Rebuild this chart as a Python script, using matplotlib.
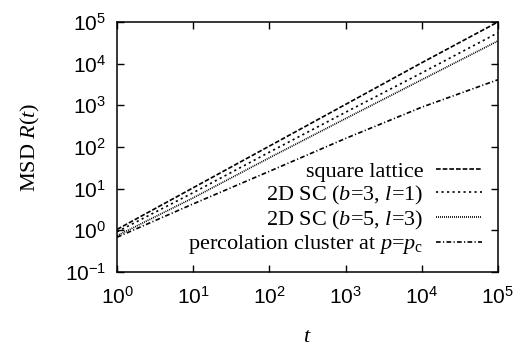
import numpy as np
import matplotlib
matplotlib.use('Agg')
import matplotlib.pyplot as plt

plt.rcParams['font.family'] = 'Liberation Serif'
plt.rcParams['mathtext.fontset'] = 'custom'
plt.rcParams['mathtext.rm'] = 'Liberation Serif'
plt.rcParams['mathtext.it'] = 'Liberation Serif:italic'

# Mean square displacement at each decade of t
t = [1, 10, 100, 1000, 1e4, 1e5]
msd_square = [1.05, 10.5, 105, 1050, 10500, 1.0e5]
msd_sc31 = [0.92, 8.0, 75, 680, 6000, 5.5e4]
msd_sc53 = [0.74, 6.0, 55, 480, 4100, 3.5e4]
msd_perc = [0.68, 4.3, 26, 160, 900, 4100]

labels = ['square lattice',
          '2D SC ($b$=3, $l$=1)',
          '2D SC ($b$=5, $l$=3)',
          'percolation cluster at $p$=$p_{\\rm c}$']

fig = plt.figure(figsize=(5.23, 3.49), dpi=100)
ax = fig.add_axes([0.224, 0.221, 0.728, 0.716])

lw = 1.2
ax.plot(t, msd_square, color='black', lw=lw, dashes=(2.8, 1.2), label=labels[0])
ax.plot(t, msd_sc31, color='black', lw=lw, dashes=(1.3, 2.0), label=labels[1])
ax.plot(t, msd_sc53, color='black', lw=lw, dashes=(0.6, 0.6), label=labels[2])
ax.plot(t, msd_perc, color='black', lw=lw, dashes=(2.8, 1.4, 0.7, 1.4), label=labels[3])

ax.set_xscale('log')
ax.set_yscale('log')
ax.set_xlim(1, 1e5)
ax.set_ylim(0.1, 1e5)
ax.yaxis.set_major_locator(matplotlib.ticker.LogLocator(base=10, numticks=12))
ax.minorticks_off()
ax.tick_params(which='major', direction='in', length=5, width=1,
               top=True, right=True, labelsize=15, pad=8,
               labelfontfamily='Liberation Sans')
ax.tick_params(axis='x', pad=10)
for s in ax.spines.values():
    s.set_linewidth(1.1)

ax.set_xlabel('$t$', fontsize=16, labelpad=15)
ax.set_ylabel('MSD $R$($t$)', fontsize=16, labelpad=16)

ax.legend(loc='lower right', markerfirst=False, frameon=False, fontsize=16,
          handlelength=2.1, labelspacing=0.08, borderaxespad=0.3,
          handletextpad=0.55)

fig.savefig('out.png', dpi=100)
